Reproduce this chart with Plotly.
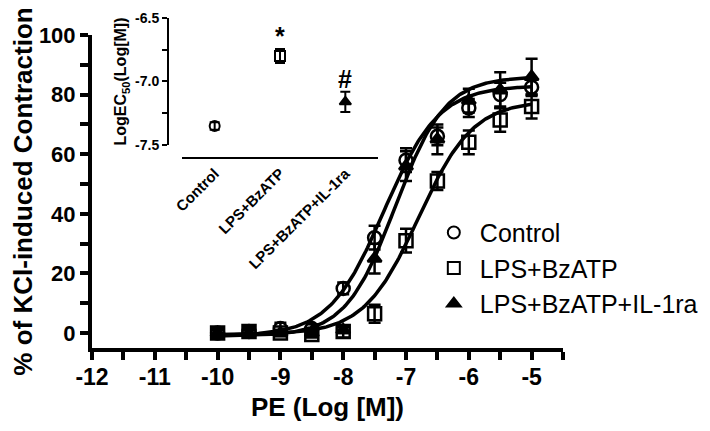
import numpy as np
import plotly.graph_objects as go

# concentration-response data (PE, log M)
log_pe = [-10, -9.5, -9, -8.5, -8, -7.5, -7, -6.5, -6, -5.5, -5]

control = [0, 0.5, 1.5, 1.5, 15, 32, 58, 66, 75.5, 80, 82.5]
control_err = [1.5, 1, 2, 1.5, 2, 4, 4, 3, 3, 4, 3]

lps = [0, 0.5, 0, -0.5, 0.5, 6.5, 31, 51, 64, 71.5, 76]
lps_err = [1.5, 1.5, 1, 1, 2, 3, 4, 3, 4, 4, 4]

il1ra = [0, 0, 0, 0, 1, 25, 56, 65, 78, 81.5, 86]
il1ra_err = [1, 1, 1, 1, 1, 5, 5, 5, 4, 6, 6]

# fitted sigmoid parameters (bottom, top, logEC50, hill)
fit_control = [-1, 83, -7.35, 1.0]
fit_lps = [-0.5, 78, -6.8, 1.0]
fit_il1ra = [-1, 86, -7.17, 1.1]

# inset: LogEC50 per group
groups = ["Control", "LPS+BzATP", "LPS+BzATP+IL-1ra"]
logec50 = [-7.35, -6.80, -7.16]
logec50_err = [0.03, 0.055, 0.08]
marks = ["", "*", "#"]

x_ticks = list(range(-12, -4))
x_ticktext = [str(v) for v in x_ticks]  # plain hyphen minus like the original

FONT = "Arial, Liberation Sans, sans-serif"


def sigmoid(x, p):
    bottom, top, ec, hill = p
    return bottom + (top - bottom) / (1 + 10 ** ((ec - x) * hill))


xs = np.linspace(-10, -5, 200)

fig = go.Figure()

for p in [fit_control, fit_lps, fit_il1ra]:
    fig.add_trace(go.Scatter(x=xs, y=sigmoid(xs, p), mode="lines",
                             line=dict(color="black", width=3.5),
                             showlegend=False, hoverinfo="skip"))

series = [
    ("Control", control, control_err, "circle-open", 13),
    ("LPS+BzATP", lps, lps_err, "square-open", 13),
    ("LPS+BzATP+IL-1ra", il1ra, il1ra_err, "triangle-up", 12),
]
for name, y, err, sym, sz in series:
    fig.add_trace(go.Scatter(
        x=log_pe, y=y, mode="markers", name=name,
        marker=dict(symbol=sym, size=sz, color="black",
                    line=dict(color="black", width=2.5)),
        error_y=dict(type="data", array=err, color="black", thickness=2.5, width=6),
    ))

# inset
inset_syms = ["circle-open", "square-open", "triangle-up"]
for i, g in enumerate(groups):
    fig.add_trace(go.Scatter(
        x=[g], y=[logec50[i]], mode="markers", xaxis="x2", yaxis="y2",
        marker=dict(symbol=inset_syms[i], size=10, color="black",
                    line=dict(color="black", width=2)),
        error_y=dict(type="data", array=[logec50_err[i]], color="black",
                     thickness=2, width=5),
        showlegend=False,
    ))
    if marks[i]:
        fig.add_annotation(x=g, y=logec50[i] + logec50_err[i] + 0.1, xref="x2", yref="y2",
                           text="<b>%s</b>" % marks[i], showarrow=False,
                           font=dict(size=25, color="black", family=FONT))

# page body has an 8px margin, so the figure is 8px smaller than the window
fig.update_layout(
    width=702, height=423,
    margin=dict(l=84, r=147, t=7, b=83, autoexpand=False),
    paper_bgcolor="white", plot_bgcolor="white",
    font=dict(family=FONT, color="black"),
    xaxis=dict(
        range=[-12, -4.5], tickvals=x_ticks, ticktext=x_ticktext, automargin=False,
        showline=True, linewidth=4, linecolor="black",
        ticks="outside", ticklen=8, tickwidth=4, tickcolor="black",
        minor=dict(dtick=0.5, tick0=-12, ticks="outside", ticklen=8, tickwidth=4, tickcolor="black"),
        showgrid=False, zeroline=False, ticklabelstandoff=-3,
        tickfont=dict(size=23, weight="bold"),
        title=dict(text="PE (Log [M])", font=dict(size=26, weight="bold"), standoff=10),
    ),
    yaxis=dict(
        range=[-5, 100], domain=[0, 0.94], tickvals=[0, 20, 40, 60, 80, 100], automargin=False,
        showline=True, linewidth=4, linecolor="black",
        ticks="outside", ticklen=8, tickwidth=4, tickcolor="black",
        minor=dict(dtick=10, tick0=0, ticks="outside", ticklen=8, tickwidth=4, tickcolor="black"),
        showgrid=False, zeroline=False,
        tickfont=dict(size=22, weight="bold"),
        title=dict(text="% of KCl-induced Contraction", font=dict(size=26, weight="bold"), standoff=4),
    ),
    xaxis2=dict(
        domain=[0.1911, 0.6072], anchor="free", position=0.5706, automargin=False,
        range=[-0.5, 2.5], type="category",
        showline=True, linewidth=2, linecolor="black",
        ticks="", showgrid=False, zeroline=False,
        tickangle=-45, tickfont=dict(size=15, weight="bold"),
    ),
    yaxis2=dict(
        domain=[0.6096, 0.991], anchor="free", position=0.1614, automargin=False,
        range=[-7.5, -6.5], tickvals=[-7.5, -7.0, -6.5], ticktext=["-7.5", "-7.0", "-6.5"],
        showline=True, linewidth=2, linecolor="black",
        ticks="outside", ticklen=5, tickwidth=2, tickcolor="black",
        minor=dict(dtick=0.25, tick0=-7.5, ticks="outside", ticklen=5, tickwidth=2, tickcolor="black"),
        showgrid=False, zeroline=False,
        tickfont=dict(size=14, weight="bold"),
        title=dict(text="LogEC<sub>50</sub>(Log[M])", font=dict(size=16, weight="bold"), standoff=3),
    ),
    legend=dict(
        x=0.713, y=0.415, xanchor="left", yanchor="top",
        font=dict(size=25), bgcolor="rgba(0,0,0,0)",
        itemsizing="constant", itemwidth=42,
    ),
)

fig.write_html("out.html")
